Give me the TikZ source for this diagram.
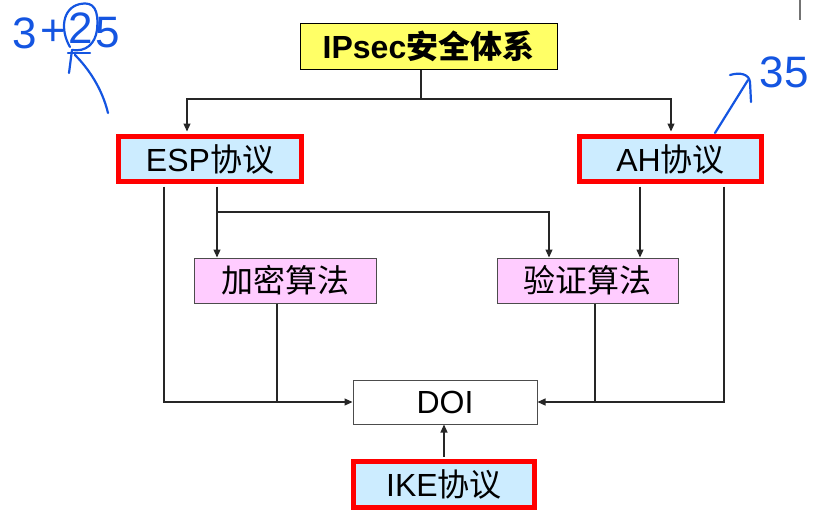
\documentclass[tikz,border=0pt]{standalone}
\usepackage{fontspec}
\setmainfont{Liberation Sans}
\newfontfamily\cjk{Noto Sans CJK SC}
\usetikzlibrary{arrows.meta}
\definecolor{boxyellow}{RGB}{255,255,102}
\definecolor{boxblue}{RGB}{204,236,255}
\definecolor{boxpink}{RGB}{255,204,255}
\definecolor{pen}{RGB}{20,85,225}
\begin{document}
\begin{tikzpicture}[x=1pt,y=-1pt,
  txt/.style={font=\fontsize{32}{36}\selectfont},
  base/.style={txt,inner sep=0pt,anchor=center},
  topbox/.style={base,draw=black,line width=1pt,fill=boxyellow},
  protobox/.style={base,draw=red,line width=5pt,fill=boxblue},
  algobox/.style={base,draw=black!70,line width=1pt,fill=boxpink},
  doibox/.style={base,draw=black!70,line width=1pt,fill=white},
  conn/.style={line width=1.1pt,black!85},
  arr/.style={conn,-{Triangle[length=8pt,width=7pt]}},
  hand/.style={pen,line width=2.2pt,line cap=round,line join=round},
  handtxt/.style={pen,inner sep=0pt,font=\fontsize{44}{46}\selectfont}]
\useasboundingbox (0,0) rectangle (826,531);

% boxes
\node[topbox,minimum width=257pt,minimum height=46pt] (ips) at (428.5,46)
  {\bfseries IPsec{\cjk\bfseries 安全体系}};
\node[protobox,minimum width=183pt,minimum height=45pt] (esp) at (210,159)
  {ESP{\cjk 协议}};
\node[protobox,minimum width=182pt,minimum height=45pt] (ah) at (670.5,159)
  {AH{\cjk 协议}};
\node[algobox,minimum width=182pt,minimum height=45pt] (enc) at (285,280.5)
  {\cjk 加密算法};
\node[algobox,minimum width=181pt,minimum height=45pt] (ver) at (587.5,280.5)
  {\cjk 验证算法};
\node[doibox,minimum width=184pt,minimum height=44pt] (doi) at (445,402)
  {DOI};
\node[protobox,minimum width=181pt,minimum height=46pt] (ike) at (444,484.5)
  {IKE{\cjk 协议}};

% connectors
\coordinate (top) at (421,99);
\coordinate (mid) at (217,212);
\draw[conn] ([xshift=-7.5pt]ips.south) -- (top);
\draw[arr] (top) -| ([xshift=-23pt,yshift=2.5pt]esp.north);
\draw[arr] (top) -| ([xshift=0.5pt,yshift=2.5pt]ah.north);
\draw[arr] ([xshift=7pt,yshift=-2.5pt]esp.south) -- ([xshift=-68pt]enc.north);
\draw[arr] (mid) -| ([xshift=-38.5pt]ver.north);
\draw[arr] ([xshift=-30.5pt,yshift=-2.5pt]ah.south) -- ([xshift=52.5pt]ver.north);
\draw[arr] ([xshift=-46pt,yshift=-2.5pt]esp.south) |- (doi.west);
\draw[conn] ([xshift=-8pt]enc.south) -- ([xshift=-8pt]enc.south |- doi.west);
\draw[conn] ([xshift=7.5pt]ver.south) -- ([xshift=7.5pt]ver.south |- doi.east);
\draw[arr] ([xshift=53.5pt,yshift=-2.5pt]ah.south) |- (doi.east);
\draw[arr] ([yshift=2.5pt]ike.north) -- (ike.north |- doi.south);

% stray mark at top right
\draw[black!55,line width=2pt] (800,0) -- (800,20);

% handwritten annotations
\node[handtxt] (h3) at (25,33) {3};
\node[handtxt] (hplus) at (53,33) {+};
\node[handtxt] (h2) at (81,28) {2};
\node[handtxt] (h5) at (108,33) {5};
\draw[hand] (70,47) .. controls (60,30) and (62,8) .. (80,4)
  .. controls (94,1) and (99,10) .. (97,30)
  .. controls (95,44) and (86,52) .. (72,50);
\draw[hand] (68,53) -- (90,53);
\draw[hand] (72,50) -- (69,73);
\draw[hand] (75,55) .. controls (88,68) and (102,88) .. (108,113);

\node[handtxt] (h35) at (784,72) {35};
\draw[hand] (715,133) -- (748,80);
\draw[hand] (730,75) .. controls (740,72) and (749,74) .. (750,82) -- (751,102);
\end{tikzpicture}
\end{document}
